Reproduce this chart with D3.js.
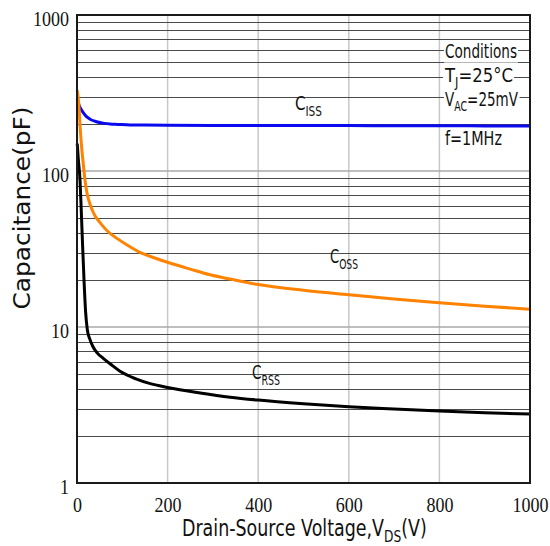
<!DOCTYPE html>
<html>
<head>
<meta charset="utf-8">
<script src="https://cdn.jsdelivr.net/npm/d3@7/dist/d3.min.js"></script>
<style>
  html, body { margin: 0; padding: 0; background: #fff; }
  svg { display: block; }
</style>
</head>
<body>
<div id="vis"></div>
<script>
// values
var cissV = [0.5, 2, 5, 10, 15, 21, 30, 43, 60, 73, 90, 117, 150, 200, 300, 400, 500, 600, 700, 800, 900, 1000];
var cissC = [292, 280, 262, 246, 234, 223, 214, 207, 202, 200, 199, 197.5, 197, 196.5, 196, 196, 195.5, 195.5, 195, 195, 194.5, 194];

var cossV = [0.5, 2, 3.5, 5, 7, 10, 14, 18, 23, 29, 35, 40, 50, 58, 70, 88, 117, 140, 170, 205, 250, 294, 338, 400, 500, 600, 700, 800, 900, 1000];
var cossC = [330, 305, 275, 240, 190, 145, 110, 86, 70, 61, 55, 51.5, 47, 44, 40.5, 37, 32.7, 30, 27.8, 25.7, 23.5, 21.6, 20.3, 18.7, 17.2, 16.1, 15.1, 14.3, 13.6, 13.0];

var crssV = [0.5, 3, 6.6, 9.6, 12.5, 15.5, 19, 22.8, 28.7, 35, 45, 58, 75, 95, 130, 160, 200, 272, 338, 400, 500, 600, 700, 800, 900, 1000];
var crssC = [150, 118, 88, 54, 32.5, 20, 12.5, 9.6, 8.3, 7.5, 6.8, 6.3, 5.75, 5.2, 4.65, 4.35, 4.1, 3.78, 3.55, 3.4, 3.22, 3.08, 2.98, 2.89, 2.82, 2.77];

var xTicks = [0, 200, 400, 600, 800, 1000];
var yTicks = [1, 10, 100, 1000];
var conditions = ['Conditions', 'T|J|=25\u00b0C', 'V|AC|=25mV', 'f=1MHz'];

var width = 550, height = 546;
var margin = { top: 15, right: 20, bottom: 63, left: 77 };
var drawWidth = width - margin.left - margin.right;
var drawHeight = height - margin.top - margin.bottom;

var svg = d3.select('#vis').append('svg')
    .attr('width', width)
    .attr('height', height);

var g = svg.append('g')
    .attr('transform', 'translate(' + margin.left + ',' + margin.top + ')');

var xScale = d3.scaleLinear().domain([0, 1000]).range([0, drawWidth]);
var yScale = d3.scaleLog().domain([1, 1000]).range([drawHeight, 0]);

// grid
var minor = [], major = [10, 100];
[1, 10, 100].forEach(function(dec) {
    for (var k = 2; k <= 9; k++) minor.push(k * dec);
});

g.selectAll('.vgrid').data(xTicks.slice(1, -1)).enter().append('line')
    .attr('x1', function(d) { return xScale(d); })
    .attr('x2', function(d) { return xScale(d); })
    .attr('y1', 0).attr('y2', drawHeight)
    .attr('stroke', '#c8c8c8').attr('stroke-width', 1.5);

g.selectAll('.hminor').data(minor).enter().append('line')
    .attr('x1', 0).attr('x2', drawWidth)
    .attr('y1', function(d) { return Math.round(yScale(d)) + 0.5; })
    .attr('y2', function(d) { return Math.round(yScale(d)) + 0.5; })
    .attr('stroke', '#4a4a4a').attr('stroke-width', 1);

g.selectAll('.hmajor').data(major).enter().append('line')
    .attr('x1', 0).attr('x2', drawWidth)
    .attr('y1', function(d) { return yScale(d); })
    .attr('y2', function(d) { return yScale(d); })
    .attr('stroke', '#a8a8a8').attr('stroke-width', 1.5);

// axes (labels only)
var fontSerif = '"Liberation Serif", "DejaVu Serif", serif';
var fontSans = '"DejaVu Sans", "Noto Sans", sans-serif';

var xAxis = d3.axisBottom(xScale).tickValues(xTicks).tickFormat(d3.format('d')).tickSize(0);
var xg = g.append('g').attr('transform', 'translate(0,' + drawHeight + ')').call(xAxis)
    .attr('font-family', fontSerif).attr('font-size', 22);
xg.select('.domain').remove();
xg.selectAll('text')
    .attr('y', 29).attr('dy', null)
    .attr('fill', '#111')
    .attr('textLength', function(d) { return String(d).length * 9; })
    .attr('lengthAdjust', 'spacingAndGlyphs');

var yAxis = d3.axisLeft(yScale).tickValues(yTicks).tickFormat(d3.format('d')).tickSize(0).tickPadding(8);
var yg = g.append('g').call(yAxis)
    .attr('font-family', fontSerif).attr('font-size', 22);
yg.select('.domain').remove();
yg.selectAll('text')
    .attr('y', 10).attr('dy', null)
    .attr('fill', '#111')
    .attr('textLength', function(d) { return String(d).length * 9; })
    .attr('lengthAdjust', 'spacingAndGlyphs');

// curves
var series = [
    { v: cissV, c: cissC, color: '#0a0af0' },
    { v: cossV, c: cossC, color: '#ff8200' },
    { v: crssV, c: crssC, color: '#000000' }
];
var line = d3.line()
    .x(function(d) { return xScale(d[0]); })
    .y(function(d) { return yScale(d[1]); })
    .curve(d3.curveMonotoneX);

series.forEach(function(s) {
    g.append('path')
        .datum(d3.zip(s.v, s.c))
        .attr('fill', 'none')
        .attr('stroke', s.color)
        .attr('stroke-width', 3)
        .attr('stroke-linejoin', 'round')
        .attr('d', line);
});

// frame
g.append('rect')
    .attr('x', 0).attr('y', 0)
    .attr('width', drawWidth).attr('height', drawHeight)
    .attr('fill', 'none').attr('stroke', '#1a1a1a').attr('stroke-width', 2);

// text helper: "A|sub|rest" -> A with subscript sub then rest; squeezed to width w
function label(parent, str, x, y, size, w, subDy) {
    var parts = str.split('|');
    var t = parent.append('text')
        .style('font-family', fontSans)
        .style('font-size', size + 'px')
        .attr('fill', '#111');
    t.append('tspan').text(parts[0]);
    if (parts.length > 1) {
        t.append('tspan').text(parts[1]).style('font-size', (size * 0.7) + 'px').attr('dy', subDy);
        if (parts[2]) t.append('tspan').text(parts[2]).attr('dy', -subDy);
    }
    var bw = t.node().getComputedTextLength();
    t.attr('transform', 'translate(' + x + ',' + y + ') scale(' + (w / bw) + ',1)');
    return t;
}

// curve names
label(svg, 'C|ISS|', 295, 110, 19, 27, 6);
label(svg, 'C|OSS|', 330, 263, 19, 28, 6);
label(svg, 'C|RSS|', 252, 379, 19, 28, 6);

// conditions box
var condY = [58, 82, 106, 145];
var condW = [72, 68, 73, 57];
conditions.forEach(function(c, i) {
    var t = label(svg, c, 445, condY[i], 19, condW[i], 5);
    var bb = t.node().getBBox();
    var sx = condW[i] / t.node().getComputedTextLength();
    svg.insert('rect', function() { return t.node(); })
        .attr('x', 445 + bb.x * sx - 1).attr('y', condY[i] + bb.y + 2)
        .attr('width', bb.width * sx + 2).attr('height', bb.height - 2)
        .attr('fill', '#fff');
});

// axis titles
label(svg, 'Drain-Source Voltage,V|DS|(V)', 182, 536, 23, 245, 6);
svg.append('text')
    .attr('transform', 'translate(30,208) rotate(-90)')
    .attr('text-anchor', 'middle')
    .style('font-family', fontSans)
    .style('font-size', '23px')
    .attr('fill', '#111')
    .attr('textLength', 203)
    .attr('lengthAdjust', 'spacingAndGlyphs')
    .text('Capacitance(pF)');
</script>
</body>
</html>
